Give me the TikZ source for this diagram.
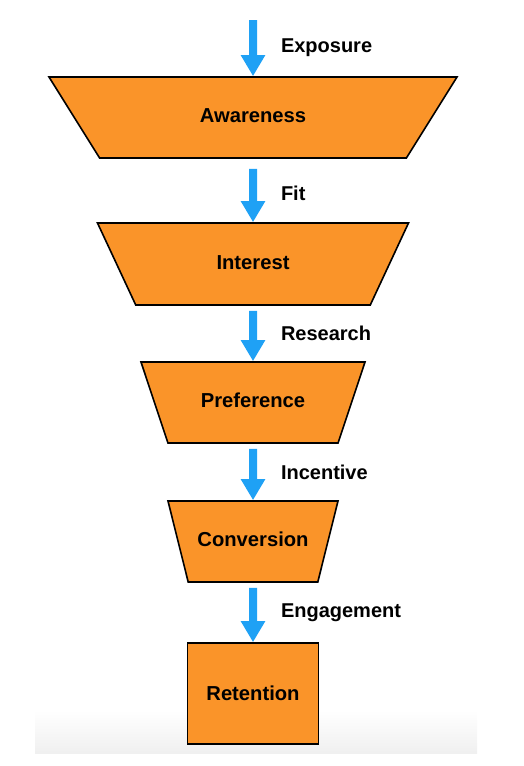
\documentclass[tikz,border=0pt]{standalone}
\usepackage{fontspec}
\setmainfont{Liberation Sans}
\usetikzlibrary{arrows.meta}
\usetikzlibrary{shapes.geometric}
\tikzset{stage/.style = {draw, fill = morange, line width = 1.6pt, trapezium,
                         shape border rotate = 180, trapezium stretches body = true,
                         text height = 15pt, text depth = 5pt, inner xsep = 0pt,
                         inner ysep = 30.5pt, font = \bfseries\fontsize{20.2}{24}\selectfont}}
\tikzset{stagebox/.style = {draw, fill = morange, line width = 1.6pt, rectangle,
                            inner sep = 0pt, font = \bfseries\fontsize{20.2}{24}\selectfont}}
\tikzset{flow/.style = {mblue, line width = 8pt, -{Triangle[width = 23pt, length = 21pt]},
                        shorten <= 5pt}}
\tikzset{lbl/.style = {black, anchor = west, xshift = 24pt, inner sep = 0pt,
                       font = \bfseries\fontsize{20}{24}\selectfont}}
\definecolor{mblue}{rgb}{0.12, 0.63, 0.96}
\definecolor{morange}{rgb}{0.98, 0.58, 0.16}
\begin{document}
\begin{tikzpicture}[x = 1pt, y = -1pt]
      \useasboundingbox (0, 0) rectangle (524, 766);
      \shade [top color = white, bottom color = black!6] (35, 710) rectangle (477, 753);

      \node [stage, trapezium angle = 58, minimum width = 408pt]
            (awareness) at (253, 117.5) {Awareness};
      \node [stage, trapezium angle = 65, minimum width = 311pt, inner ysep = 31pt]
            (interest) at (253, 264) {Interest};
      \node [stage, trapezium angle = 71.6, minimum width = 224pt]
            (preference) at (253, 402.5) {Preference};
      \node [stage, trapezium angle = 76, minimum width = 170pt]
            (conversion) at (253, 541.5) {Conversion};
      \node [stagebox, minimum width = 131pt, minimum height = 101pt]
            (retention) at (253, 693.5) {Retention};

      \coordinate (start) at (253, 20);
      \draw [flow, shorten <= 0pt] (start) -- node [lbl] {Exposure} (awareness.north);
      \draw [flow, shorten <= 10pt] (awareness.south) -- node [lbl, pos = 0.55] {Fit} (interest.north);
      \draw [flow] (interest.south) -- node [lbl] {Research} (preference.north);
      \draw [flow] (preference.south) -- node [lbl] {Incentive} (conversion.north);
      \draw [flow] (conversion.south) -- node [lbl] {Engagement} (retention.north);
    \end{tikzpicture}
\end{document}
